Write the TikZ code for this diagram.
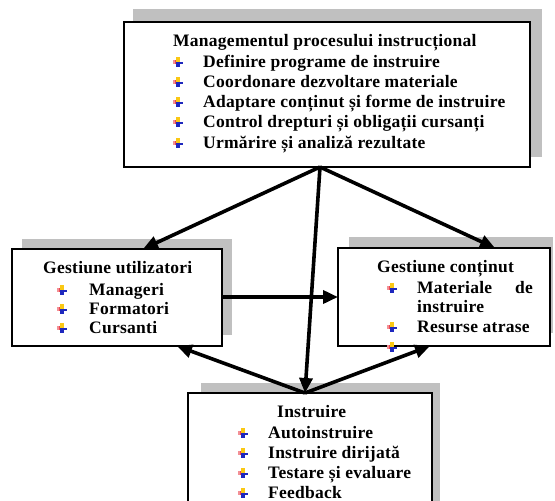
\documentclass[tikz,border=0pt]{standalone}
\usepackage{fontspec}
\setmainfont{Liberation Serif}[LetterSpace=1.5]
\usetikzlibrary{arrows.meta}
\definecolor{shadowgray}{RGB}{192,192,192}
\definecolor{bulred}{RGB}{235,70,80}
\definecolor{bulyel}{RGB}{250,200,20}
\definecolor{bulblue}{RGB}{30,40,190}
\tikzset{
  framebox/.style={draw=black, line width=1.3pt, fill=white},
  txt/.style={anchor=base west, inner sep=0pt, font=\bfseries\fontsize{17.5}{20}\selectfont},
  txtr/.style={anchor=base east, inner sep=0pt, font=\bfseries\fontsize{17.5}{20}\selectfont},
  conn/.style={line width=3.6pt, -{Triangle[length=15pt,width=13pt]}},
  bul/.pic={
    \fill[bulred!60] (-5.5,-2) rectangle (-3,2.2);
    \fill[bulred] (-3,-2) rectangle (0,2.2);
    \fill[bulyel] (-1.8,-5.5) rectangle (1.8,0);
    \fill[bulblue] (-1.8,0) rectangle (5,2.2);
    \fill[bulblue] (-1.8,0) rectangle (1.8,5);
  }
}
\begin{document}
\begin{tikzpicture}[x=1pt,y=-1pt]
\useasboundingbox (0,0) rectangle (555,501);
\clip (0,0) rectangle (555,501);
% shadows
\fill[shadowgray] (133,9) rectangle (542,157);
\fill[shadowgray] (22,239) rectangle (232,335);
\fill[shadowgray] (349,237) rectangle (553,333);
\fill[shadowgray] (201,383) rectangle (440,520);
% boxes
\node[framebox, minimum width=406pt, minimum height=145pt, inner sep=0pt] (top) at (327,94.5) {};
\node[framebox, minimum width=210pt, minimum height=97pt, inner sep=0pt] (usr) at (117,297.5) {};
\node[framebox, minimum width=212pt, minimum height=98pt, inner sep=0pt] (cnt) at (444,297) {};
\node[framebox, minimum width=244pt, minimum height=130pt, inner sep=0pt] (ins) at (310,458) {};
% top box text
\node[txt] (t0) at (173,46) {Managementul procesului instrucțional};
\node[txt] (t1) at (203,67) {Definire programe de instruire};
\node[txt] (t2) at (203,87) {Coordonare dezvoltare materiale};
\node[txt] (t3) at (203,107) {Adaptare conținut și forme de instruire};
\node[txt] (t4) at (203,127) {Control drepturi și obligații cursanți};
\node[txt] (t5) at (203,148) {Urmărire și analiză rezultate};
\foreach \y in {62,82,102,122,143} \pic at (178,\y) {bul};
% left box text
\node[txt] (u0) at (43,273) {Gestiune utilizatori};
\node[txt] (u1) at (89,295) {Manageri};
\node[txt] (u2) at (89,314) {Formatori};
\node[txt] (u3) at (89,333) {Cursanti};
\foreach \y in {290,309,328} \pic at (62,\y) {bul};
% right box text
\node[txt] (c0) at (377,272) {Gestiune conținut};
\node[txt] (c1) at (417,293) {Materiale};
\node[txtr] (c1b) at (533,293) {de};
\node[txt] (c2) at (417,312) {instruire};
\node[txt] (c3) at (417,332) {Resurse atrase};
\foreach \y in {288,327,347} \pic at (392,\y) {bul};
% bottom box text
\node[txt] (i0) at (277,417) {Instruire};
\node[txt] (i1) at (268,438) {Autoinstruire};
\node[txt] (i2) at (268,458) {Instruire dirijată};
\node[txt] (i3) at (268,478) {Testare și evaluare};
\node[txt] (i4) at (268,498) {Feedback};
\foreach \y in {433,453,473,493} \pic at (243,\y) {bul};
% connector points
\coordinate (apex) at (320,167);
\coordinate (usrtop) at (143,249);
\coordinate (cnttop) at (495,248);
\coordinate (instop) at (305,393);
\coordinate (usrbot) at (177,346);
\coordinate (cntbot) at (430,346);
\coordinate (usrright) at (222,297);
\coordinate (cntleft) at (338,297);
% connectors
\draw[conn] (apex) -- (usrtop);
\draw[conn] (apex) -- (cnttop);
\draw[conn] (apex) -- (instop);
\draw[conn] (instop) -- (usrbot);
\draw[conn] (instop) -- (cntbot);
\draw[conn] (usrright) -- (cntleft);
\end{tikzpicture}
\end{document}
